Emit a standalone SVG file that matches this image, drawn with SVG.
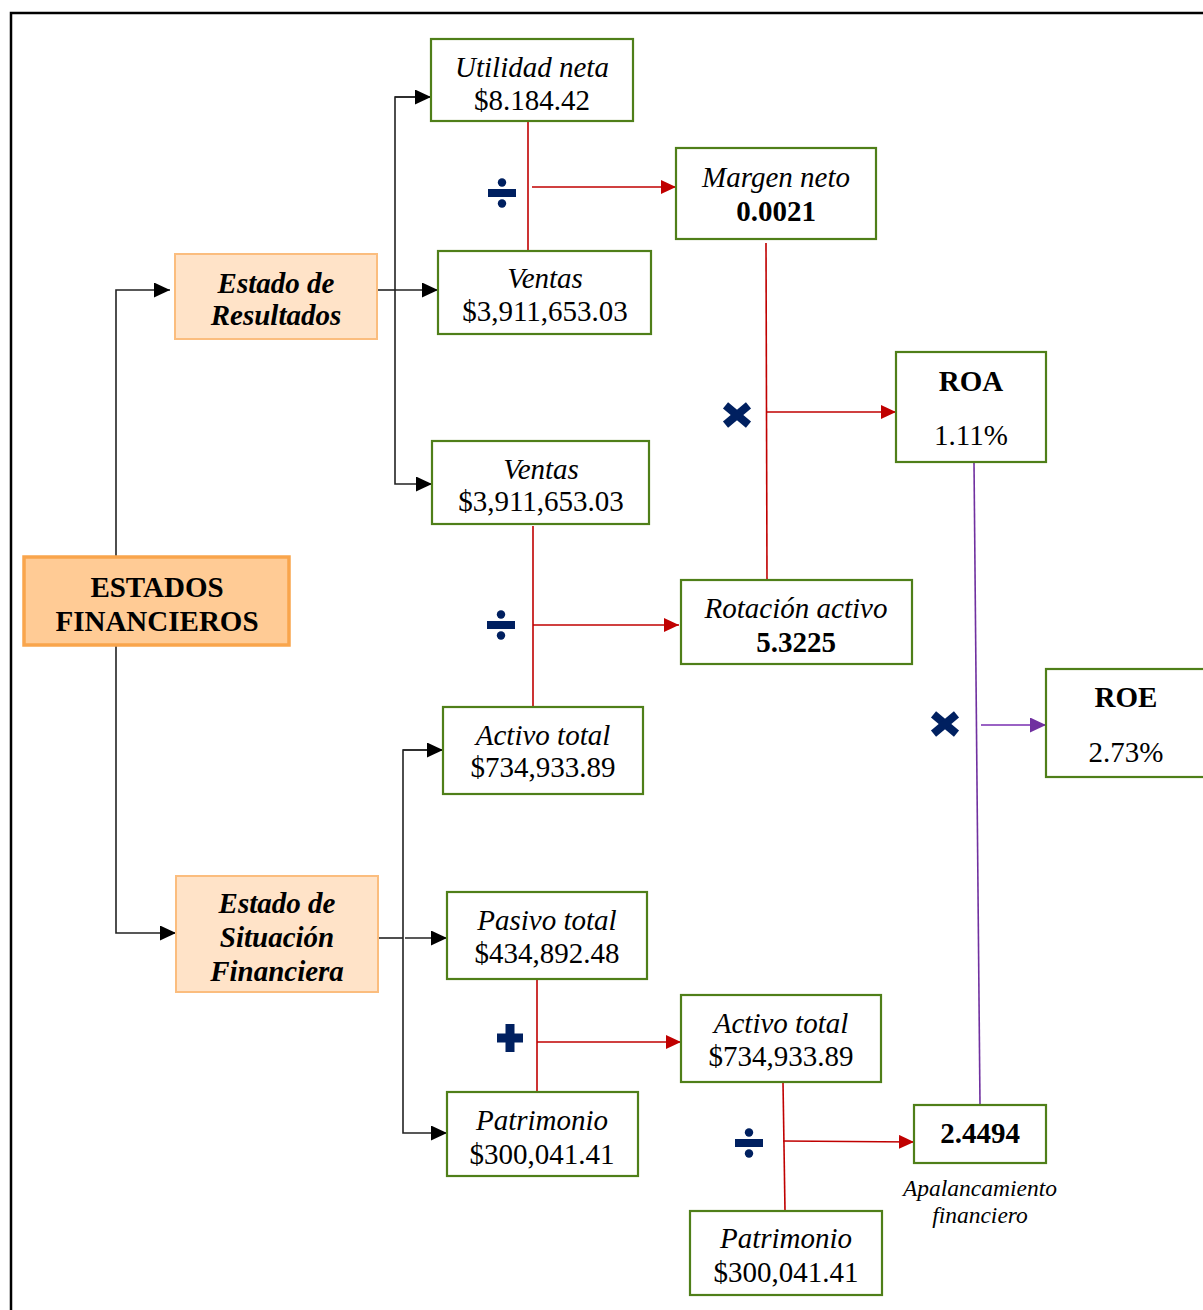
<svg xmlns="http://www.w3.org/2000/svg" width="1203" height="1310" viewBox="0 0 1203 1310">
<style>
.box{fill:#ffffff;stroke:#4f7f19;stroke-width:2.2}
.st{fill:#ffe3c8;stroke:#fbbd7e;stroke-width:2}
.main{fill:#ffcb95;stroke:#f9a54c;stroke-width:3.5}
text{font-family:"Liberation Serif","Times New Roman",serif;font-size:29px;fill:#000;text-anchor:middle}
.i{font-style:italic}
.b{font-weight:bold}
.bi{font-weight:bold;font-style:italic}
.blk{fill:none;stroke:#222;stroke-width:1.6}
.red{fill:none;stroke:#c00000;stroke-width:1.6}
.pur{fill:none;stroke:#7030a0;stroke-width:1.6}
.sym{fill:#002060}
</style>
<defs>
<marker id="ab" viewBox="0 0 16 15" refX="16" refY="7.5" markerWidth="16" markerHeight="15" markerUnits="userSpaceOnUse" orient="auto"><path d="M0,0 L16,7.5 L0,15 z" fill="#000"/></marker>
<marker id="ar" viewBox="0 0 15 14" refX="15" refY="7" markerWidth="15" markerHeight="14" markerUnits="userSpaceOnUse" orient="auto"><path d="M0,0 L15,7 L0,14 z" fill="#c00000"/></marker>
<marker id="ap" viewBox="0 0 16 15" refX="16" refY="7.5" markerWidth="16" markerHeight="15" markerUnits="userSpaceOnUse" orient="auto"><path d="M0,0 L16,7.5 L0,15 z" fill="#7030a0"/></marker>
<g id="div"><rect x="-14" y="-4" width="28" height="8"/><circle cx="0" cy="-10.5" r="4.2"/><circle cx="0" cy="10.5" r="4.2"/></g>
<g id="mul"><rect x="-15" y="-4" width="30" height="8" transform="rotate(40)"/><rect x="-15" y="-4" width="30" height="8" transform="rotate(-40)"/></g>
<g id="plus"><rect x="-13" y="-4.5" width="26" height="9"/><rect x="-4.5" y="-14" width="9" height="28"/></g>
</defs>
<rect x="11" y="13" width="1200" height="1310" fill="none" stroke="#000" stroke-width="2.5"/>

<g id="connectors">
<polyline class="blk" points="116,557 116,290 170,290" marker-end="url(#ab)"/>
<polyline class="blk" points="116,645 116,933 176,933" marker-end="url(#ab)"/>
<line class="blk" x1="377" y1="290" x2="395" y2="290"/>
<polyline class="blk" points="431,97 395,97 395,484 432,484" marker-end="url(#ab)" style="marker-start:none"/>
<line class="blk" x1="395" y1="290" x2="438" y2="290" marker-end="url(#ab)"/>
<line class="blk" x1="379" y1="938" x2="403" y2="938"/>
<polyline class="blk" points="443,750 403,750 403,1133 447,1133" marker-end="url(#ab)"/>
<line class="blk" x1="403" y1="750" x2="443" y2="750" marker-end="url(#ab)"/>
<line class="blk" x1="405" y1="938" x2="447" y2="938" marker-end="url(#ab)"/>
<line class="blk" x1="395" y1="97" x2="431" y2="97" marker-end="url(#ab)"/>

<line class="red" x1="528" y1="122" x2="528" y2="251"/>
<line class="red" x1="532" y1="187" x2="676" y2="187" marker-end="url(#ar)"/>
<line class="red" x1="766" y1="243" x2="767" y2="580"/>
<line class="red" x1="767" y1="412" x2="896" y2="412" marker-end="url(#ar)"/>
<line class="red" x1="533" y1="526" x2="533" y2="706"/>
<line class="red" x1="533" y1="625" x2="679" y2="625" marker-end="url(#ar)"/>
<line class="red" x1="537" y1="980" x2="537" y2="1092"/>
<line class="red" x1="537" y1="1042" x2="681" y2="1042" marker-end="url(#ar)"/>
<line class="red" x1="783" y1="1082" x2="785" y2="1211"/>
<line class="red" x1="783" y1="1141" x2="914" y2="1142" marker-end="url(#ar)"/>

<line class="pur" x1="974" y1="462" x2="980" y2="1105"/>
<line x1="981" y1="725" x2="1046" y2="725" stroke="#9a62c4" stroke-width="1.8" marker-end="url(#ap)"/>

<use href="#div" class="sym" x="502" y="193"/>
<use href="#mul" class="sym" x="737" y="415"/>
<use href="#div" class="sym" x="501" y="625"/>
<use href="#mul" class="sym" x="945" y="724"/>
<use href="#plus" class="sym" x="510" y="1038"/>
<use href="#div" class="sym" x="749" y="1143"/>
</g>

<g id="n-ef"><rect class="main" x="24" y="557" width="265" height="88"/><text class="b" x="157" y="597">ESTADOS</text><text class="b" x="157" y="631">FINANCIEROS</text></g>
<g id="n-er"><rect class="st" x="175" y="254" width="202" height="85"/><text class="bi" x="276" y="293">Estado de</text><text class="bi" x="276" y="325">Resultados</text></g>
<g id="n-esf"><rect class="st" x="176" y="876" width="202" height="116"/><text class="bi" x="277" y="913">Estado de</text><text class="bi" x="277" y="947">Situación</text><text class="bi" x="277" y="981">Financiera</text></g>

<g id="n-util"><rect class="box" x="431" y="39" width="202" height="82"/><text class="i" x="532" y="77">Utilidad neta</text><text x="532" y="110">$8.184.42</text></g>
<g id="n-ventas1"><rect class="box" x="438" y="251" width="213" height="83"/><text class="i" x="545" y="288">Ventas</text><text x="545" y="321">$3,911,653.03</text></g>
<g id="n-margen"><rect class="box" x="676" y="148" width="200" height="91"/><text class="i" x="776" y="187">Margen neto</text><text class="b" x="776" y="221">0.0021</text></g>
<g id="n-roa"><rect class="box" x="896" y="352" width="150" height="110"/><text class="b" x="971" y="391">ROA</text><text x="971" y="445">1.11%</text></g>
<g id="n-ventas2"><rect class="box" x="432" y="441" width="217" height="83"/><text class="i" x="541" y="479">Ventas</text><text x="541" y="511">$3,911,653.03</text></g>
<g id="n-rot"><rect class="box" x="681" y="580" width="231" height="84"/><text class="i" x="796" y="618">Rotación activo</text><text class="b" x="796" y="652">5.3225</text></g>
<g id="n-roe"><rect class="box" x="1046" y="669" width="170" height="108"/><text class="b" x="1126" y="707">ROE</text><text x="1126" y="762">2.73%</text></g>
<g id="n-activo1"><rect class="box" x="443" y="707" width="200" height="87"/><text class="i" x="543" y="745">Activo total</text><text x="543" y="777">$734,933.89</text></g>
<g id="n-pasivo"><rect class="box" x="447" y="892" width="200" height="87"/><text class="i" x="547" y="930">Pasivo total</text><text x="547" y="963">$434,892.48</text></g>
<g id="n-patr1"><rect class="box" x="447" y="1092" width="191" height="84"/><text class="i" x="542" y="1130">Patrimonio</text><text x="542" y="1164">$300,041.41</text></g>
<g id="n-activo2"><rect class="box" x="681" y="995" width="200" height="87"/><text class="i" x="781" y="1033">Activo total</text><text x="781" y="1066">$734,933.89</text></g>
<g id="n-apal"><rect class="box" x="914" y="1105" width="132" height="58"/><text class="b" x="980" y="1143">2.4494</text></g>
<g id="n-apal-label"><text class="i" x="980" y="1196" style="font-size:23.5px">Apalancamiento</text><text class="i" x="980" y="1223" style="font-size:23.5px">financiero</text></g>
<g id="n-patr2"><rect class="box" x="690" y="1211" width="192" height="84"/><text class="i" x="786" y="1248">Patrimonio</text><text x="786" y="1282">$300,041.41</text></g>
</svg>
